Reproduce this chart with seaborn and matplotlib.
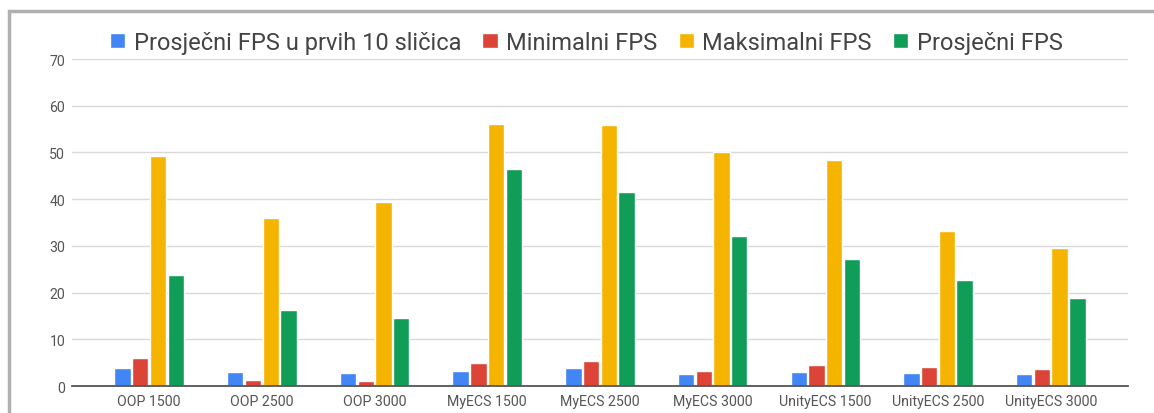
import pandas as pd
import matplotlib.pyplot as plt
import seaborn as sns
from matplotlib.patches import Rectangle

# --- DATI ---
categories = ['OOP 1500', 'OOP 2500', 'OOP 3000', 'MyECS 1500', 'MyECS 2500',
              'MyECS 3000', 'UnityECS 1500', 'UnityECS 2500', 'UnityECS 3000']
series_names = ['Prosječni FPS u prvih 10 sličica', 'Minimalni FPS',
                'Maksimalni FPS', 'Prosječni FPS']
first10_fps = [3.8, 3.0, 2.8, 3.2, 3.8, 2.6, 3.0, 2.8, 2.6]
min_fps = [6.0, 1.3, 1.1, 4.9, 5.4, 3.3, 4.5, 4.0, 3.6]
max_fps = [49.2, 36.0, 39.4, 56.1, 55.9, 50.1, 48.4, 33.3, 29.6]
avg_fps = [23.8, 16.3, 14.6, 46.5, 41.5, 32.1, 27.2, 22.7, 18.8]
y_ticks = [0, 10, 20, 30, 40, 50, 60, 70]

colors = ['#4285F4', '#DB4437', '#F4B400', '#0F9D58']

# --- STILE ---
sns.set_theme(style="white")
plt.rcParams['font.family'] = ['Roboto', 'DejaVu Sans']

rows = []
for name, vals in zip(series_names, [first10_fps, min_fps, max_fps, avg_fps]):
    for cat, v in zip(categories, vals):
        rows.append({'cat': cat, 'serie': name, 'fps': v})
df = pd.DataFrame(rows)

fig = plt.figure(figsize=(11.54, 4.14), dpi=100)
ax = fig.add_axes([0.0624, 0.065, 0.915, 0.79])

sns.barplot(data=df, x='cat', y='fps', hue='serie', order=categories,
            hue_order=series_names, palette=colors, width=0.63, gap=0.08,
            saturation=1, ax=ax)

ax.set_ylim(0, 70)
ax.set_yticks(y_ticks)
ax.set_xlim(-0.685, len(categories) - 1 + 0.685)
ax.yaxis.grid(True, color='#d9d9d9', linewidth=1)
ax.set_axisbelow(True)
for s in ['top', 'right', 'left']:
    ax.spines[s].set_visible(False)
ax.spines['bottom'].set_color('#555555')
ax.spines['bottom'].set_linewidth(1.3)
ax.tick_params(axis='both', length=0, labelsize=10.2, colors='#555555')
ax.tick_params(axis='y', pad=5)
ax.tick_params(axis='x', pad=6)
ax.set_xlabel('')
ax.set_ylabel('')

# legenda in alto
sns.move_legend(ax, 'upper center', bbox_to_anchor=(0.508, 1.0),
                bbox_transform=fig.transFigure, ncol=4, frameon=False,
                title=None, fontsize=17, handlelength=0.65, handleheight=0.65,
                handletextpad=0.35, columnspacing=0.9, borderaxespad=0.95)
for t in ax.get_legend().get_texts():
    t.set_color('#444444')

# cornice del grafico
fig.patches.append(Rectangle((0.0075, -0.05), 1.1, 1.02, transform=fig.transFigure,
                             fill=False, edgecolor='#b0b0b0', linewidth=2.5))

fig.savefig('out.png', dpi=100)
